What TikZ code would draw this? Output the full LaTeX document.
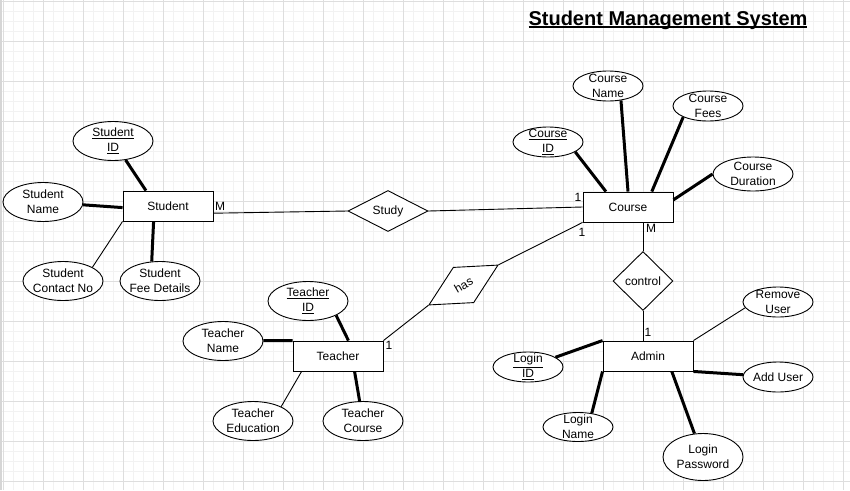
\documentclass[tikz,border=0pt]{standalone}
\usepackage{fontspec}
\setmainfont{Liberation Sans}
\usetikzlibrary{shapes.geometric}
\newcommand{\heavyunderline}[1]{\setbox0\hbox{#1}\rlap{\rule[-2.6pt]{\wd0}{1.6pt}}\box0}

\begin{document}
\begin{tikzpicture}[x=1pt,y=-1pt,
    every node/.style={font=\fontsize{12}{15}\selectfont},
    entity/.style={draw,fill=white,line width=0.9pt,minimum width=90pt,minimum height=30pt,inner sep=0pt},
    attrib/.style={ellipse,draw,fill=white,line width=0.9pt,align=center,inner sep=-10pt,minimum width=80pt,minimum height=39pt},
    smallattrib/.style={attrib,minimum width=70pt,minimum height=30pt},
    relation/.style={diamond,draw,fill=white,line width=0.9pt,inner sep=0pt,shape aspect=2,minimum width=80pt,minimum height=41pt},
    card/.style={inner sep=0pt},
    link/.style={line width=0.9pt},
    keylink/.style={line width=3pt},
    minorgrid/.style={line width=0.6pt,black!5},
    majorgrid/.style={line width=0.8pt,black!13}]

        \useasboundingbox (0,0) rectangle (850,490);
        \fill[white] (0,0) rectangle (850,490);

        % Draw grid
        \foreach \x in {3,13,...,843}{
            \draw[minorgrid] (\x,0) -- (\x,490);
        }
        \foreach \y in {1,11,...,481}{
            \draw[minorgrid] (0,\y) -- (850,\y);
        }
        \foreach \x in {3,43,...,843}{
            \draw[majorgrid] (\x,0) -- (\x,490);
        }
        \foreach \y in {1,41,...,481}{
            \draw[majorgrid] (0,\y) -- (850,\y);
        }
        \draw[line width=2pt,black!16] (1,0) -- (1,490);

        \node (title) at (668,20) {\fontsize{20}{24}\selectfont\bfseries\heavyunderline{Student Management System}};

        \node[entity] (student) at (168,206) {Student};
        \node[entity] (course) at (628,207) {Course};
        \node[entity] (teacher) at (338,356) {Teacher};
        \node[entity] (admin) at (648,356) {Admin};

        \node[relation] (study) at (388,211) {Study};
        \node[relation,rotate=30] (has) at (463.5,285) {has};
        \node[relation,shape aspect=1,minimum width=60pt,minimum height=59pt] (control) at (643,281) {control};

        % Student attributes
        \node[attrib] (sid) at (113,141) {\underline{Student}\\\underline{ID}};
        \node[attrib] (sname) at (43,202) {Student\\Name};
        \node[attrib] (scontact) at (63,281) {Student\\Contact No};
        \node[attrib] (sfee) at (160,281) {Student\\Fee Details};

        % Course attributes
        \node[smallattrib] (cid) at (548,142) {\underline{Course}\\\underline{ID}};
        \node[smallattrib] (cname) at (608,86) {Course\\Name};
        \node[smallattrib] (cfees) at (708,106) {Course\\Fees};
        \node[attrib,minimum height=34pt] (cdur) at (753,174) {Course\\Duration};

        % Teacher attributes
        \node[attrib] (tid) at (308,301) {\underline{Teacher}\\\underline{ID}};
        \node[attrib] (tname) at (223,341) {Teacher\\Name};
        \node[attrib] (tedu) at (253,421) {Teacher\\Education};
        \node[attrib] (tcourse) at (363,421) {Teacher\\Course};

        % Admin attributes
        \node[smallattrib] (lid) at (528,367) {\underline{Login}\\\underline{ID}};
        \node[smallattrib,minimum height=29pt] (lname) at (578,427) {Login\\Name};
        \node[attrib,minimum height=47pt] (lpass) at (703,457) {Login\\Password};
        \node[smallattrib] (remove) at (778,302) {Remove\\User};
        \node[smallattrib] (adduser) at (778,377) {Add User};

        \draw[keylink] (sid) -- (student.145);
        \draw[keylink] (sname) -- (student.182);
        \draw[link] (scontact.25) -- (student.south west);
        \draw[keylink] (sfee.113) -- (student.227);

        \draw[keylink] (cid.-20) -- (course.145);
        \draw[keylink] (cname.-48) -- (course.north);
        \draw[keylink] (cfees.204) -- (course.33);
        \draw[keylink] (cdur.west) -- (course.9);

        \draw[keylink] (tid.-27) -- (teacher.56);
        \draw[keylink] (tname) -- (teacher.north west);
        \draw[link] (tedu.27) -- (teacher.203);
        \draw[keylink] (tcourse) -- (teacher.-43);

        \draw[keylink] (lid) -- (admin.north west);
        \draw[keylink] (lname.45) -- (admin.south west);
        \draw[keylink] (lpass) -- (admin.-33);
        \draw[link] (remove.190) -- (admin.north east);
        \draw[keylink] (adduser) -- (admin.south east);

        % Relationships
        \draw[link] (student.-9) -- (study.west);
        \draw[link] (study.east) -- (course.west);
        \draw[link] (teacher.north east) -- (has.west);
        \draw[link] (has.east) -- (course.south west);
        \draw[link] (control.north) -- (control.north |- course.south);
        \draw[link] (control.south) -- (control.south |- admin.north);

        \node[card] (m1) at (220,206) {M};
        \node[card] (one1) at (578,197) {1};
        \node[card] (one2) at (582,232) {1};
        \node[card] (one3) at (389,345) {1};
        \node[card] (m2) at (651,228) {M};
        \node[card] (one4) at (648,332) {1};

\end{tikzpicture}
\end{document}
